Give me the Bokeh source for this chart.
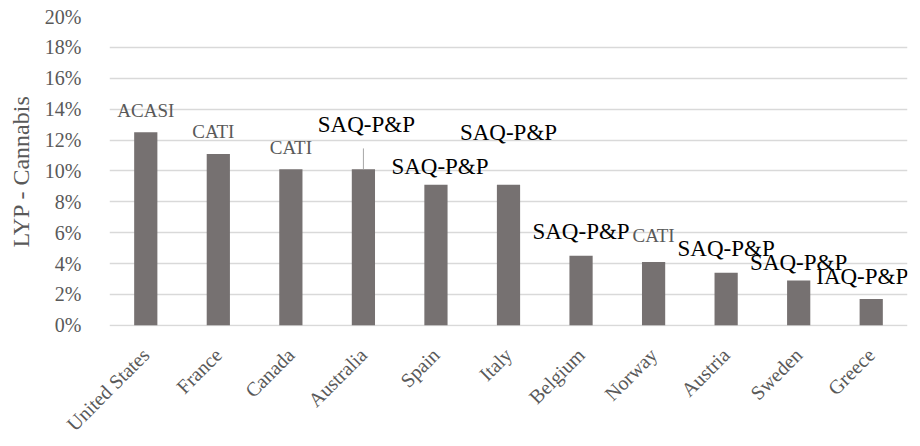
import math
from bokeh.plotting import figure
from bokeh.models import ColumnDataSource, LabelSet, FixedTicker, NumeralTickFormatter
from bokeh.embed import file_html
from bokeh.resources import INLINE

countries = ["United States", "France", "Canada", "Australia", "Spain", "Italy",
             "Belgium", "Norway", "Austria", "Sweden", "Greece"]
lyp = [0.125, 0.111, 0.101, 0.101, 0.091, 0.091, 0.045, 0.041, 0.034, 0.029, 0.017]
methods = ["ACASI", "CATI", "CATI", "SAQ-P&P", "SAQ-P&P", "SAQ-P&P",
           "SAQ-P&P", "CATI", "SAQ-P&P", "SAQ-P&P", "IAQ-P&P"]
y_ticks = [0, 0.02, 0.04, 0.06, 0.08, 0.10, 0.12, 0.14, 0.16, 0.18, 0.20]

# label offsets in screen pixels (style)
lab_dx = [0, -5, 0, 3, 4, 0, 0, 0, 0, 0, -9]
lab_dy = [22, 22, 22, 45, 18, 52, 24, 26, 24, 18, 23]

SERIF = "'Liberation Serif', 'Times New Roman', serif"
GRAY_TXT = "#595959"

p = figure(x_range=countries, y_range=(-0.0008, 0.2), width=920, height=446,
           output_backend="svg", toolbar_location=None,
           min_border_left=109, min_border_right=13, min_border_top=16, min_border_bottom=120)
p.outline_line_color = None
p.background_fill_color = "white"
p.border_fill_color = "white"

src = ColumnDataSource(dict(x=countries, top=lyp))
p.vbar(x="x", top="top", width=0.32, source=src, fill_color="#767171", line_color=None)

# leader line for Australia label
ai = countries.index("Australia")
per_px = 0.2 / 310.0
p.segment(x0=[countries[ai]], y0=[lyp[ai]], x1=[countries[ai]], y1=[lyp[ai] + 21 * per_px],
          line_color="#a6a6a6", line_width=1)

gray_idx = [i for i, m in enumerate(methods) if m in ("ACASI", "CATI")]
black_idx = [i for i, m in enumerate(methods) if m not in ("ACASI", "CATI")]

def mk(idx):
    return ColumnDataSource(dict(
        x=[countries[i] for i in idx],
        y=[lyp[i] for i in idx],
        t=[methods[i] for i in idx],
        dx=[lab_dx[i] for i in idx],
        dy=[lab_dy[i] for i in idx],
    ))

p.add_layout(LabelSet(x="x", y="y", text="t", x_offset="dx", y_offset="dy", source=mk(gray_idx),
                      text_align="center", text_baseline="middle", text_font=SERIF,
                      text_font_size="19px", text_color=GRAY_TXT))
p.add_layout(LabelSet(x="x", y="y", text="t", x_offset="dx", y_offset="dy", source=mk(black_idx),
                      text_align="center", text_baseline="middle", text_font=SERIF,
                      text_font_size="23px", text_color="black"))

p.xgrid.grid_line_color = None
p.ygrid.grid_line_color = "#d9d9d9"
p.ygrid.grid_line_width = 1.5
p.ygrid.ticker = FixedTicker(ticks=y_ticks)

ya = p.yaxis[0]
ya.ticker = FixedTicker(ticks=y_ticks)
ya.formatter = NumeralTickFormatter(format="0%")
ya.axis_line_color = None
ya.major_tick_line_color = None
ya.minor_tick_line_color = None
ya.major_label_text_font = SERIF
ya.major_label_text_font_size = "20px"
ya.major_label_text_color = GRAY_TXT
ya.major_label_standoff = 22
ya.axis_label = "LYP - Cannabis"
ya.axis_label_text_font = SERIF
ya.axis_label_text_font_size = "24px"
ya.axis_label_text_font_style = "normal"
ya.axis_label_text_color = GRAY_TXT
ya.axis_label_standoff = 8

xa = p.xaxis[0]
xa.axis_line_color = None
xa.major_tick_line_color = None
xa.minor_tick_line_color = None
xa.major_label_orientation = math.pi / 4
xa.major_label_text_font = SERIF
xa.major_label_text_font_size = "20px"
xa.major_label_text_color = GRAY_TXT
xa.major_label_standoff = 19

open("out.html", "w").write(file_html(p, INLINE))
